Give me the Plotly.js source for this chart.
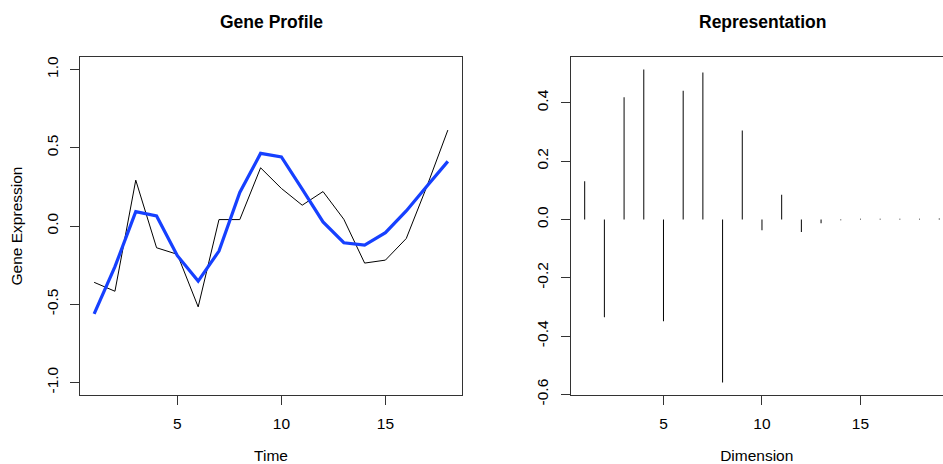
<!DOCTYPE html>
<html>
<head>
<meta charset="utf-8">
<script src="https://cdn.plot.ly/plotly-3.0.1.min.js"></script>
<style>html,body{margin:0;padding:0;background:#fff;}#chart{width:943px;height:464px;}</style>
</head>
<body>
<div id="chart"></div>
<script>
// ---- data ----
const timePoints = [1,2,3,4,5,6,7,8,9,10,11,12,13,14,15,16,17,18];
const rawProfile = [-0.36,-0.417,0.293,-0.139,-0.181,-0.517,0.041,0.041,0.372,0.24,0.133,0.22,0.043,-0.237,-0.218,-0.08,0.256,0.613];
const smoothProfile = [-0.562,-0.26,0.092,0.064,-0.19,-0.352,-0.16,0.214,0.464,0.442,0.235,0.026,-0.107,-0.122,-0.043,0.096,0.256,0.413];
const dimensions = [1,2,3,4,5,6,7,8,9,10,11,12,13,14,15,16,17,18,19];
const coefficients = [0.131,-0.335,0.419,0.514,-0.349,0.441,0.504,-0.559,0.305,-0.037,0.085,-0.043,-0.013,-0.003,0.002,0.002,0.002,0.002,0.003];
const leftYTicks = [-1.0,-0.5,0.0,0.5,1.0];
const leftYTickText = ["-1.0","-0.5","0.0","0.5","1.0"];
const rightYTicks = [-0.6,-0.4,-0.2,0.0,0.2,0.4];
const rightYTickText = ["-0.6","-0.4","-0.2","0.0","0.2","0.4"];
const xTicks = [5,10,15];

const W = 943, H = 464;
const px = v => v / W;
const py = v => 1 - v / H;

const fam = "Liberation Sans, Arial, sans-serif";
const font = {family: fam, size: 15.5, color: "#000"};

const traces = [
  {x: timePoints, y: rawProfile, type: "scatter", mode: "lines",
   line: {color: "#000", width: 1}, xaxis: "x", yaxis: "y", hoverinfo: "skip"},
  {x: timePoints, y: smoothProfile, type: "scatter", mode: "lines",
   line: {color: "#1640ff", width: 3.2}, xaxis: "x", yaxis: "y", hoverinfo: "skip"},
  {x: dimensions, y: coefficients, type: "bar", width: 0.05,
   marker: {color: "#000", line: {width: 0}}, xaxis: "x2", yaxis: "y2", hoverinfo: "skip"}
];

const axisCommon = {
  showgrid: false, zeroline: false, showline: true, linecolor: "#333", linewidth: 1,
  ticks: "outside", ticklen: 9, tickcolor: "#333", tickwidth: 1,
  tickfont: font, automargin: false
};

const layout = {
  width: W, height: H,
  margin: {l: 0, r: 0, t: 0, b: 0},
  paper_bgcolor: "#fff", plot_bgcolor: "#fff",
  showlegend: false,
  font: font,
  xaxis: Object.assign({}, axisCommon, {
    domain: [px(80), px(462)], range: [0.32, 18.68], tickvals: xTicks,
    mirror: true, anchor: "y", ticklabelstandoff: 5,
    title: {text: "Time", font: font, standoff: 25}
  }),
  yaxis: Object.assign({}, axisCommon, {
    domain: [py(395), py(57)], range: [-1.08, 1.08],
    tickvals: leftYTicks, ticktext: leftYTickText, tickangle: -90,
    mirror: true, anchor: "x", ticklabelstandoff: 6,
    title: {text: "Gene Expression", font: font, standoff: 17}
  }),
  xaxis2: Object.assign({}, axisCommon, {
    domain: [px(570.5), 1], range: [0.28, 19.19], tickvals: xTicks,
    mirror: true, anchor: "y2", ticklabelstandoff: 5,
    title: {text: "Dimension", font: font, standoff: 25}
  }),
  yaxis2: Object.assign({}, axisCommon, {
    domain: [py(395), py(57)], range: [-0.602, 0.557],
    tickvals: rightYTicks, ticktext: rightYTickText, tickangle: -90,
    mirror: false, anchor: "x2", ticklabelstandoff: 6
  }),
  annotations: [
    {text: "<b>Gene Profile</b>", xref: "paper", yref: "paper", x: px(271), y: py(22),
     xanchor: "center", yanchor: "middle", showarrow: false,
     font: {family: fam, size: 17.5, color: "#000"}},
    {text: "<b>Representation</b>", xref: "paper", yref: "paper", x: px(762.5), y: py(22),
     xanchor: "center", yanchor: "middle", showarrow: false,
     font: {family: fam, size: 17.5, color: "#000"}}
  ]
};

Plotly.newPlot("chart", traces, layout, {staticPlot: true, displayModeBar: false});
</script>
</body>
</html>
